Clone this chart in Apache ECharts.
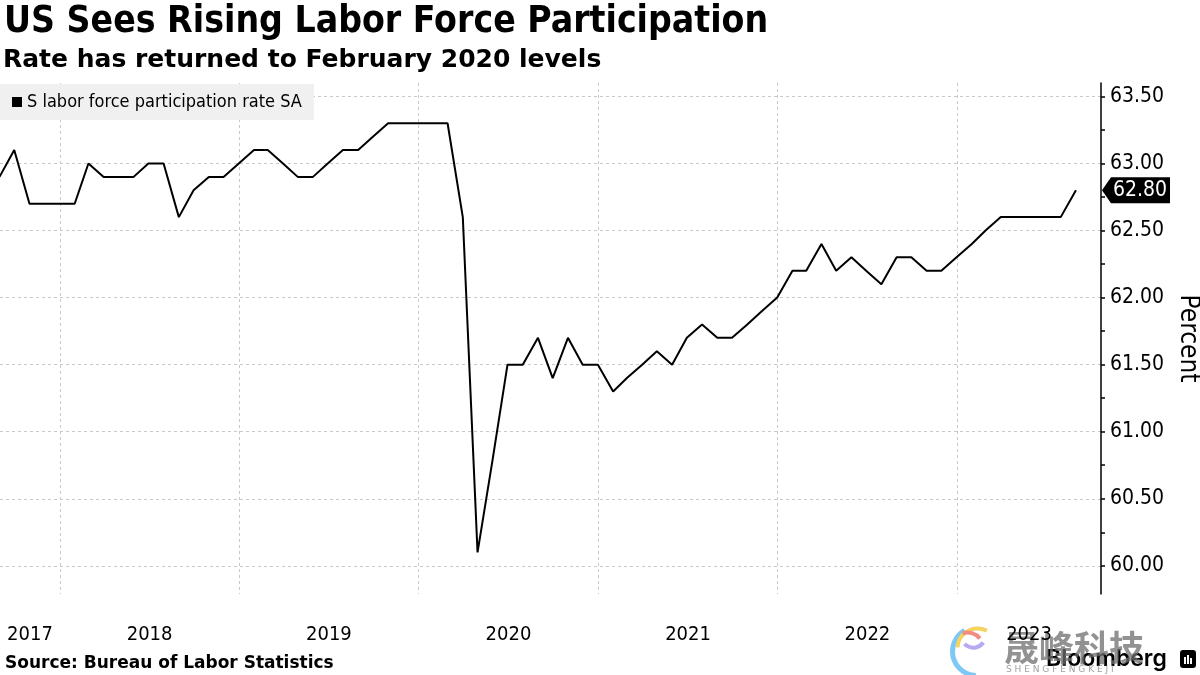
<!DOCTYPE html>
<html>
<head>
<meta charset="utf-8">
<script src="https://cdn.jsdelivr.net/npm/echarts@6/dist/echarts.min.js"></script>
<style>
html,body{margin:0;padding:0;background:#fff;}
#chart{width:1200px;height:675px;}
</style>
</head>
<body>
<div id="chart"></div>
<script>
// ---- Data (monthly, US labor force participation rate SA, %) ----
const months = [
  '2017-08','2017-09','2017-10','2017-11','2017-12',
  '2018-01','2018-02','2018-03','2018-04','2018-05','2018-06','2018-07','2018-08','2018-09','2018-10','2018-11','2018-12',
  '2019-01','2019-02','2019-03','2019-04','2019-05','2019-06','2019-07','2019-08','2019-09','2019-10','2019-11','2019-12',
  '2020-01','2020-02','2020-03','2020-04','2020-05','2020-06','2020-07','2020-08','2020-09','2020-10','2020-11','2020-12',
  '2021-01','2021-02','2021-03','2021-04','2021-05','2021-06','2021-07','2021-08','2021-09','2021-10','2021-11','2021-12',
  '2022-01','2022-02','2022-03','2022-04','2022-05','2022-06','2022-07','2022-08','2022-09','2022-10','2022-11','2022-12',
  '2023-01','2023-02','2023-03','2023-04','2023-05','2023-06','2023-07','2023-08'
];
const participation = [
  62.9,63.1,62.7,62.7,62.7,
  62.7,63.0,62.9,62.9,62.9,63.0,63.0,62.6,62.8,62.9,62.9,63.0,
  63.1,63.1,63.0,62.9,62.9,63.0,63.1,63.1,63.2,63.3,63.3,63.3,
  63.3,63.3,62.6,60.1,60.8,61.5,61.5,61.7,61.4,61.7,61.5,61.5,
  61.3,61.4,61.5,61.6,61.5,61.7,61.8,61.7,61.7,61.8,61.9,62.0,
  62.2,62.2,62.4,62.2,62.3,62.2,62.1,62.3,62.3,62.2,62.2,62.3,
  62.4,62.5,62.6,62.6,62.6,62.6,62.6,62.8
];
const yearTicks = [2018, 2019, 2020, 2021, 2022, 2023];
const yLabelValues = [60, 60.5, 61, 61.5, 62, 62.5, 63, 63.5];
const yMinorValues = [60, 60.25, 60.5, 60.75, 61, 61.25, 61.5, 61.75, 62, 62.25, 62.5, 62.75, 63, 63.25, 63.5];
const seriesName = 'S labor force participation rate SA';

// ---- Build ----
function monthEnd(m) {
  const [y, mo] = m.split('-').map(Number);
  return Date.UTC(y, mo, 0); // last day of month
}
const seriesData = months.map((m, i) => [monthEnd(m), participation[i]]);
const xMin = Date.UTC(2017, 8, 1);
const xMax = Date.UTC(2023, 9, 21);
const yearStarts = yearTicks.map(y => Date.UTC(y, 0, 1));
// label positions: centre of visible part of each year
const bounds = [xMin].concat(yearStarts).concat([xMax]);
const labelPos = [];
for (let i = 0; i < bounds.length - 1; i++) labelPos.push((bounds[i] + bounds[i + 1]) / 2);
const last = seriesData[seriesData.length - 1];

const FONT = "'DejaVu Sans Condensed', 'DejaVu Sans', sans-serif";
const chart = echarts.init(document.getElementById('chart'), null, {renderer: 'canvas'});
chart.setOption({
  animation: false,
  backgroundColor: '#ffffff',
  title: [
    {text: 'US Sees Rising Labor Force Participation', left: 4, top: 4, padding: 0,
     textStyle: {fontFamily: FONT, fontWeight: 'bold', fontSize: 37, color: '#000'}},
    {text: 'Rate has returned to February 2020 levels', left: 3, top: 48, padding: 0,
     textStyle: {fontFamily: "'DejaVu Sans', sans-serif", fontWeight: 'bold', fontSize: 25, color: '#000'}},
    {text: 'Source: Bureau of Labor Statistics', left: 5, top: 655, padding: 0,
     textStyle: {fontFamily: "'DejaVu Sans', sans-serif", fontWeight: 'bold', fontSize: 17, color: '#000'}}
  ],
  legend: {
    left: 0, top: 84, padding: [9, 12, 9, 12],
    backgroundColor: '#f0f0f0',
    icon: 'rect', itemWidth: 10, itemHeight: 10, itemGap: 4,
    textStyle: {fontFamily: FONT, fontSize: 18, color: '#000'},
    data: [seriesName]
  },
  grid: {left: 0, right: 99, top: 83, bottom: 81, containLabel: false, outerBoundsMode: 'none'},
  xAxis: {
    type: 'value', min: xMin, max: xMax,
    axisLine: {show: false},
    axisTick: {show: false, customValues: yearStarts},
    splitLine: {show: true, lineStyle: {color: '#c8c8c8', type: [3, 3], width: 1}},
    axisLabel: {
      customValues: labelPos, margin: 31,
      fontFamily: FONT, fontSize: 20, color: '#000',
      formatter: v => String(new Date(v).getUTCFullYear())
    }
  },
  yAxis: [
    {
      type: 'value', position: 'right', min: 59.79, max: 63.6,
      axisLine: {show: true, lineStyle: {color: '#000', width: 1.5}},
      axisTick: {show: false, customValues: yLabelValues},
      splitLine: {show: true, lineStyle: {color: '#c8c8c8', type: [3, 3], width: 1}},
      axisLabel: {customValues: yLabelValues, margin: 9, fontFamily: FONT, fontSize: 21, color: '#000',
                  formatter: v => v.toFixed(2)},
      name: 'Percent', nameLocation: 'middle', nameRotate: -90, nameGap: 69,
      nameTextStyle: {fontFamily: FONT, fontSize: 26, color: '#000'}
    },
    {
      type: 'value', position: 'right', min: 59.79, max: 63.6,
      axisLine: {show: false},
      axisTick: {show: true, inside: false, length: 4, customValues: yMinorValues, lineStyle: {color: '#000', width: 1.5}},
      splitLine: {show: false},
      axisLabel: {show: false}
    }
  ],
  series: [{
    name: seriesName, type: 'line', data: seriesData,
    showSymbol: false, symbol: 'none', clip: true,
    lineStyle: {color: '#000', width: 2},
    itemStyle: {color: '#000'},
    markPoint: {
      silent: true,
      symbol: 'path://M0,13 L9,0 L68,0 L68,26 L9,26 Z',
      symbolSize: [68, 26], symbolOffset: [35, 0],
      itemStyle: {color: '#000'},
      label: {show: true, position: 'inside', offset: [4, 0], color: '#fff', fontFamily: FONT, fontSize: 21,
              formatter: p => p.value.toFixed(2)},
      data: [{coord: [xMax, last[1]], value: last[1]}]
    }
  }],
  graphic: [
    {type: 'text', left: 1046, top: 648, style: {text: 'Bloomberg', fontFamily: "'Inter', 'Liberation Sans', sans-serif", fontWeight: 600, fontSize: 23, fill: '#000'}},
    {type: 'rect', left: 1180, top: 650, shape: {width: 16, height: 18, r: 3}, style: {fill: '#000'}},
    {type: 'rect', left: 1184, top: 657, shape: {width: 2, height: 7}, style: {fill: '#fff'}},
    {type: 'rect', left: 1187, top: 655, shape: {width: 2, height: 9}, style: {fill: '#fff'}},
    {type: 'rect', left: 1190, top: 658, shape: {width: 2, height: 6}, style: {fill: '#fff'}},
    {type: 'text', left: 1004, top: 630, style: {text: '晟峰科技', fontFamily: "'Noto Sans CJK SC', sans-serif", fontWeight: 'bold', fontSize: 35, fill: 'rgba(110,110,110,0.75)'}},
    {type: 'text', left: 1006, top: 665, style: {text: 'S H E N G F E N G K E J I', fontFamily: "'DejaVu Sans', sans-serif", fontSize: 9, fill: 'rgba(120,120,120,0.7)'}},
    {type: 'arc', left: 950, top: 628, shape: {cx: 27, cy: 24, r: 24, startAngle: 1.6, endAngle: 4.2}, style: {stroke: '#7ec8f5', lineWidth: 5, fill: null}},
    {type: 'arc', left: 955, top: 626, shape: {cx: 24, cy: 22, r: 20, startAngle: 3.2, endAngle: 5.2}, style: {stroke: '#f4d35e', lineWidth: 4, fill: null}},
    {type: 'arc', left: 960, top: 630, shape: {cx: 22, cy: 22, r: 16, startAngle: 4.4, endAngle: 5.6}, style: {stroke: '#f28b82', lineWidth: 4, fill: null}},
    {type: 'arc', left: 962, top: 640, shape: {cx: 18, cy: 14, r: 12, startAngle: 0.6, endAngle: 2.4}, style: {stroke: '#b8a9f0', lineWidth: 4, fill: null}}
  ]
});
</script>
</body>
</html>
